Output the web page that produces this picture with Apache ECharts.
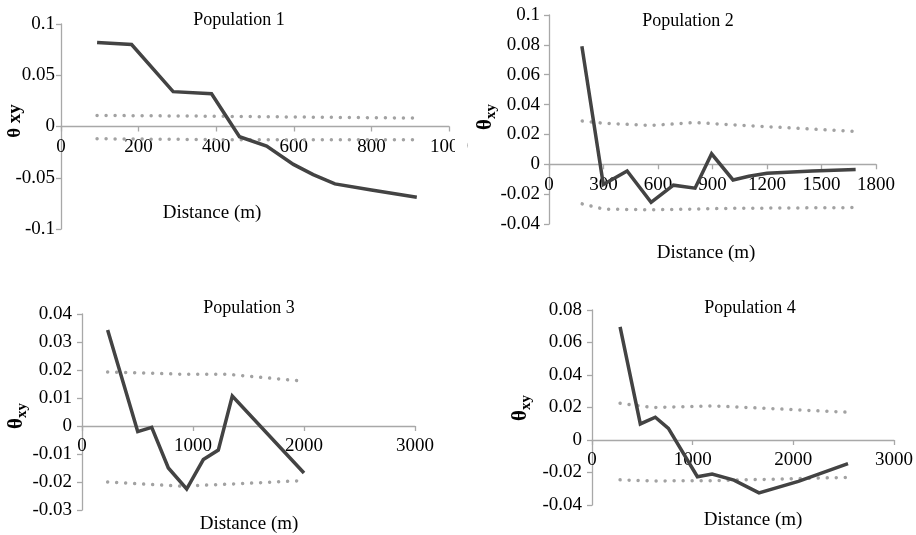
<!DOCTYPE html>
<html>
<head>
<meta charset="utf-8">
<script src="https://cdn.jsdelivr.net/npm/echarts@6/dist/echarts.min.js"></script>
<style>html,body{margin:0;padding:0;background:#fff}#c{width:916px;height:535px}</style>
</head>
<body>
<div id="c"></div>
<script>
// ---- data ----
const titles = ['Population 1', 'Population 2', 'Population 3', 'Population 4'];
const xAxisTitle = 'Distance (m)';

const p1Dist  = [93, 182, 289, 388, 460, 530, 599, 650, 706, 800, 917];
const p1Theta = [0.082, 0.080, 0.034, 0.032, -0.010, -0.019, -0.037, -0.047, -0.056, -0.062, -0.069];
const p1CiDist = [93, 400, 917];
const p1Upper  = [0.0108, 0.0100, 0.0082];
const p1Lower  = [-0.0120, -0.0128, -0.0130];

const p2Dist  = [181, 299, 430, 562, 685, 804, 895, 1013, 1100, 1200, 1450, 1688];
const p2Theta = [0.079, -0.0135, -0.0045, -0.0255, -0.014, -0.016, 0.007, -0.0105, -0.008, -0.006, -0.0045, -0.0035];
const p2CiDist = [183, 300, 560, 800, 1000, 1690];
const p2Upper  = [0.029, 0.0275, 0.026, 0.028, 0.0265, 0.022];
const p2Lower  = [-0.0265, -0.030, -0.0305, -0.030, -0.0295, -0.029];

const p3Dist  = [231, 502, 628, 778, 943, 1093, 1228, 1354, 2000];
const p3Theta = [0.0343, -0.002, -0.0005, -0.015, -0.0225, -0.012, -0.0086, 0.0107, -0.0168];
const p3CiDist = [231, 900, 1300, 2000];
const p3Upper  = [0.0193, 0.0185, 0.0185, 0.016];
const p3Lower  = [-0.020, -0.0215, -0.0208, -0.0195];

const p4Dist  = [279, 480, 629, 759, 1047, 1193, 1410, 1659, 2050, 2543];
const p4Theta = [0.0696, 0.0099, 0.014, 0.0072, -0.0226, -0.021, -0.0247, -0.0325, -0.0255, -0.0146];
const p4CiDist = [279, 600, 1200, 2543];
const p4Upper  = [0.0226, 0.0200, 0.0210, 0.0171];
const p4Lower  = [-0.0245, -0.0252, -0.0250, -0.0230];

// axis ranges
const xMax = [1000, 1800, 3000, 3000];
const xStep = [200, 300, 1000, 1000];
const yMin = [-0.1, -0.04, -0.03, -0.04];
const yMax = [0.1, 0.1, 0.04, 0.08];
const yStep = [0.05, 0.02, 0.01, 0.02];

// ---- layout / styles ----
const FONT = '"Liberation Serif","Times New Roman",serif';
const grids = [
  {left: 61, top: 24, width: 388, height: 205},
  {left: 549, top: 15, width: 327, height: 209},
  {left: 82, top: 314, width: 333, height: 196},
  {left: 592, top: 310, width: 322, height: 195}
];
const yLabelMargin = [6, 9, 10, 10];
const axisColor = '#a8a8a8';

const panels = [
  [p1Dist, p1Theta, p1CiDist, p1Upper, p1Lower],
  [p2Dist, p2Theta, p2CiDist, p2Upper, p2Lower],
  [p3Dist, p3Theta, p3CiDist, p3Upper, p3Lower],
  [p4Dist, p4Theta, p4CiDist, p4Upper, p4Lower]
];
const zip = (a, b) => a.map((v, i) => [v, b[i]]);

const xAxis = [], yAxis = [], series = [];
panels.forEach((p, i) => {
  // place the horizontal axis (with its labels) on the y = 0 line
  const zeroOffset = -grids[i].height * (0 - yMin[i]) / (yMax[i] - yMin[i]);
  xAxis.push({
    type: 'value', gridIndex: i, min: 0, max: xMax[i], interval: xStep[i],
    position: 'bottom', offset: zeroOffset,
    axisLine: {onZero: false, lineStyle: {color: axisColor, width: 1.3}},
    axisTick: {show: true, length: 5, lineStyle: {color: axisColor, width: 1.3}},
    axisLabel: {fontFamily: FONT, fontSize: 19, color: '#000', margin: 11,
      showMaxLabel: true, showMinLabel: true, formatter: v => String(v)},
    splitLine: {show: false}
  });
  yAxis.push({
    type: 'value', gridIndex: i, min: yMin[i], max: yMax[i], interval: yStep[i],
    axisLine: {show: true, onZero: false, lineStyle: {color: axisColor, width: 1.3}},
    axisTick: {show: true, length: 5, lineStyle: {color: axisColor, width: 1.3}},
    axisLabel: {fontFamily: FONT, fontSize: 19, color: '#000', margin: yLabelMargin[i],
      formatter: v => String(+v.toFixed(4))},
    splitLine: {show: false}
  });
  const dotStyle = {color: '#a2a2a2', width: 3.5, type: [0.01, 9], cap: 'round'};
  series.push({
    type: 'line', xAxisIndex: i, yAxisIndex: i, data: zip(p[2], p[3]),
    symbol: 'none', lineStyle: dotStyle, silent: true, z: 2
  });
  series.push({
    type: 'line', xAxisIndex: i, yAxisIndex: i, data: zip(p[2], p[4]),
    symbol: 'none', lineStyle: dotStyle, silent: true, z: 2
  });
  series.push({
    type: 'line', xAxisIndex: i, yAxisIndex: i, data: zip(p[0], p[1]),
    symbol: 'none', lineStyle: {color: '#434343', width: 3.5, join: 'miter'}, silent: true, z: 3
  });
});

const titlePos = [[239, 20], [688, 21], [249, 308], [750, 308]];
const distPos = [[212, 213], [706, 253], [249, 524], [753, 520]];
const thetaPos = [[15, 121], [486, 117], [17, 416], [521, 408]];

const graphic = [];
titles.forEach((t, i) => {
  graphic.push({type: 'text', x: titlePos[i][0], y: titlePos[i][1], z: 10,
    style: {text: t, font: '18px ' + FONT, fill: '#000', align: 'center', verticalAlign: 'middle'}});
  graphic.push({type: 'text', x: distPos[i][0], y: distPos[i][1], z: 10,
    style: {text: xAxisTitle, font: '19px ' + FONT, fill: '#000', align: 'center', verticalAlign: 'middle'}});
  if (i === 0) {
    graphic.push({type: 'text', x: thetaPos[i][0], y: thetaPos[i][1], rotation: Math.PI / 2, z: 10,
      style: {text: 'θ xy', font: 'bold 19px ' + FONT, fill: '#000', align: 'center', verticalAlign: 'middle'}});
  } else {
    graphic.push({type: 'text', x: thetaPos[i][0], y: thetaPos[i][1], rotation: Math.PI / 2, z: 10,
      style: {
        text: '{a|θ}{b|xy}', align: 'center', verticalAlign: 'middle',
        rich: {
          a: {fontFamily: FONT, fontSize: 21, fontWeight: 'bold', color: '#000', lineHeight: 22},
          b: {fontFamily: FONT, fontSize: 15, fontWeight: 'bold', color: '#000', lineHeight: 22, padding: [10, 0, 0, 0]}
        }
      }});
  }
});
// the first panel is cut off on the right in the source figure
graphic.push({type: 'rect', shape: {x: 455, y: 132, width: 12, height: 30}, style: {fill: '#fff'}, z: 20});

const chart = echarts.init(document.getElementById('c'), null, {renderer: 'canvas'});
chart.setOption({
  animation: false,
  backgroundColor: '#fff',
  grid: grids.map(g => Object.assign({containLabel: false}, g)),
  xAxis, yAxis, series, graphic
});
</script>
</body>
</html>
